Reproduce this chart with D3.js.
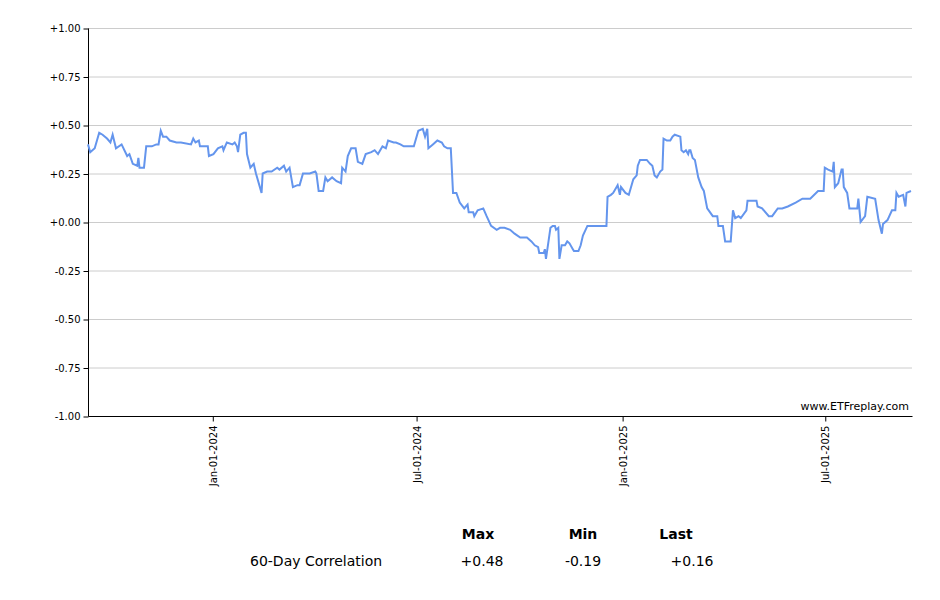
<!DOCTYPE html>
<html>
<head>
<meta charset="utf-8">
<script src="https://cdn.jsdelivr.net/npm/d3@7"></script>
<style>
  body { margin: 0; background: #fff; font-family: "DejaVu Sans", Verdana, sans-serif; }
</style>
</head>
<body>
<svg id="chart" width="940" height="600"></svg>
<script>
// day offsets from the first date, and the 60-day correlation on that day
const startDate = new Date(2023, 8, 12);
const days = [0,2,6,10,13,17,20,22,25,30,35,37,40,44,45,46,50,52,57,61,63,65,67,70,73,79,83,92,94,96,99,100,
  107,108,112,116,120,121,124,129,131,133,134,136,139,141,142,145,148,150,155,156,160,164,169,171,175,177,180,
  183,187,189,192,195,198,203,204,206,210,212,214,218,222,226,227,230,232,235,239,241,245,248,253,256,259,263,
  266,268,273,275,279,282,288,291,295,299,301,303,304,308,312,316,318,321,324,326,329,332,336,339,340,344,345,
  348,353,356,360,365,368,372,377,381,386,392,396,399,402,403,407,408,409,411,413,415,417,418,420,421,423,426,
  428,430,433,434,438,440,442,446,453,459,463,464,467,469,473,475,476,480,483,487,490,491,493,498,499,502,504,
  506,508,511,513,514,517,520,522,524,529,530,532,534,536,537,538,540,542,545,548,550,553,558,562,563,567,569,
  574,576,578,581,583,588,589,597,598,602,608,611,616,620,625,632,638,645,652,657,658,661,665,666,667,670,673,
  674,675,678,680,683,687,688,690,694,696,703,706,709,710,714,718,721,722,724,728,730,731,735];
const corr = [0.40,0.36,0.38,0.46,0.45,0.43,0.41,0.45,0.38,0.40,0.34,0.35,0.30,0.29,0.33,0.28,0.28,0.39,0.39,0.40,0.40,0.47,
  0.44,0.44,0.42,0.41,0.41,0.40,0.43,0.41,0.42,0.39,0.39,0.34,0.35,0.38,0.39,0.37,0.41,0.40,0.41,0.39,0.36,0.45,
  0.46,0.46,0.35,0.28,0.30,0.25,0.15,0.25,0.26,0.26,0.28,0.27,0.29,0.26,0.28,0.18,0.19,0.19,0.25,0.25,0.25,0.26,
  0.25,0.16,0.16,0.23,0.21,0.23,0.21,0.20,0.28,0.26,0.34,0.38,0.38,0.31,0.30,0.35,0.36,0.37,0.35,0.39,0.38,0.42,
  0.41,0.41,0.40,0.39,0.39,0.39,0.47,0.48,0.44,0.48,0.38,0.40,0.42,0.41,0.39,0.38,0.38,0.15,0.15,0.10,0.07,0.09,
  0.05,0.05,0.03,0.06,0.07,0.03,-0.02,-0.04,-0.03,-0.03,-0.04,-0.06,-0.08,-0.08,-0.10,-0.12,-0.13,-0.16,-0.16,
  -0.14,-0.19,-0.11,-0.03,-0.02,-0.02,-0.04,-0.03,-0.19,-0.12,-0.12,-0.10,-0.11,-0.14,-0.15,-0.15,-0.12,-0.07,
  -0.02,-0.02,-0.02,-0.02,0.13,0.14,0.15,0.19,0.14,0.18,0.15,0.14,0.22,0.24,0.29,0.32,0.32,0.32,0.30,0.29,0.24,
  0.23,0.26,0.27,0.43,0.42,0.42,0.44,0.45,0.44,0.37,0.36,0.37,0.35,0.37,0.37,0.33,0.32,0.23,0.18,0.16,0.07,0.03,
  0.03,-0.02,-0.02,-0.10,-0.10,0.06,0.02,0.03,0.02,0.06,0.11,0.11,0.08,0.07,0.03,0.03,0.07,0.07,0.08,0.10,0.12,
  0.12,0.16,0.16,0.28,0.27,0.26,0.31,0.18,0.20,0.27,0.27,0.18,0.15,0.07,0.07,0.07,0.12,0.00,0.03,0.13,0.12,0.01,
  -0.06,-0.01,0.01,0.06,0.06,0.15,0.13,0.14,0.08,0.15,0.16];
const yTicks = [1, 0.75, 0.5, 0.25, 0, -0.25, -0.5, -0.75, -1];
const statHeads = ["Max", "Min", "Last"];
const statVals = ["+0.48", "-0.19", "+0.16"];

const svg = d3.select('#chart'),
    mLeft = 88, mRight = 911, mTop = 28, mBottom = 416;

const points = days.map((d, i) => ({date: d3.timeDay.offset(startDate, d), v: corr[i]}))
    .filter(p => p.v !== undefined);
const x = d3.scaleTime().domain(d3.extent(points, p => p.date)).range([mLeft, mRight]);
const y = d3.scaleLinear().domain([-1, 1]).range([mBottom, mTop]);
const fmtY = v => (v >= 0 ? "+" : "") + v.toFixed(2);

// gridlines
svg.append('g').selectAll('line').data(yTicks).join('line')
    .attr('x1', mLeft).attr('x2', mRight + 1)
    .attr('y1', d => y(d) + 0.5).attr('y2', d => y(d) + 0.5)
    .attr('stroke', '#ccc');

let ya = svg.append('g').attr('transform', `translate(${mLeft + 0.5},0.5)`)
    .call(d3.axisLeft(y).tickValues(yTicks).tickFormat(fmtY).tickSize(5).tickPadding(3));
ya.select('.domain').attr('d', `M0,${mTop}V${mBottom}`);
ya.selectAll('text').style('font-size', '10px').style('font-family', '"DejaVu Sans", Verdana, sans-serif').attr('fill', '#000');

const xTicks = [new Date(2024, 0, 1), new Date(2024, 6, 1), new Date(2025, 0, 1), new Date(2025, 6, 1)];
let xa = svg.append('g').attr('transform', `translate(0.5,${mBottom + 0.5})`)
    .call(d3.axisBottom(x).tickValues(xTicks).tickFormat(d3.timeFormat('%b-%d-%Y')).tickSize(5).tickSizeOuter(0));
xa.select('.domain').attr('d', `M${mLeft},0H${mRight + 1}`);
xa.selectAll('text')
    .style('font-size', '10px').style('font-family', '"DejaVu Sans", Verdana, sans-serif').attr('fill', '#000')
    .attr('text-anchor', 'end').attr('transform', 'rotate(-90)')
    .attr('x', -9).attr('y', 0).attr('dy', '0.35em');

svg.append('path').datum(points)
    .attr('fill', 'none').attr('stroke', '#6495ED').attr('stroke-width', 2)
    .attr('d', d3.line().x(p => x(p.date)).y(p => y(p.v)));

svg.append('text').attr('x', 909).attr('y', 410).attr('text-anchor', 'end')
    .style('font-size', '11px').text('www.ETFreplay.com');

// stats table
const cols = [478, 583, 676];
svg.selectAll('.head').data(statHeads).join('text')
    .attr('x', (d, i) => cols[i]).attr('y', 539).attr('text-anchor', 'middle')
    .style('font-size', '14px').style('font-weight', 'bold').text(d => d);
svg.append('text').attr('x', 250).attr('y', 566).style('font-size', '14px').text('60-Day Correlation');
const valCols = [482, 583, 692];
svg.selectAll('.val').data(statVals).join('text')
    .attr('x', (d, i) => valCols[i]).attr('y', 566).attr('text-anchor', 'middle')
    .style('font-size', '14px').text(d => d);
</script>
</body>
</html>
